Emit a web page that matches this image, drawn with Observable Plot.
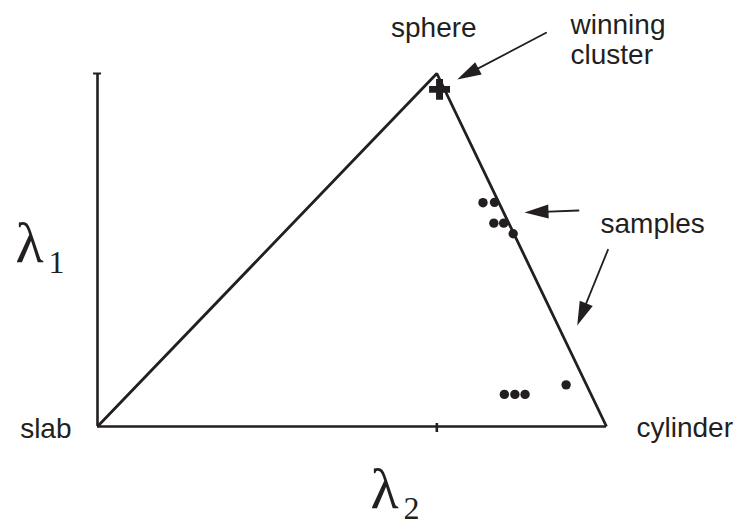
<!DOCTYPE html>
<html>
<head>
<meta charset="utf-8">
<script src="https://cdn.jsdelivr.net/npm/d3@7"></script>
<script src="https://cdn.jsdelivr.net/npm/@observablehq/plot@0.6"></script>
<style>
  html, body { margin: 0; padding: 0; background: #fff; }
  #chart svg { display: block; }
</style>
</head>
<body>
<div id="chart"></div>
<script>
// Shape space: λ2 across, λ1 up; the corners are the ideal shapes
const shapeNames = ["slab", "sphere", "cylinder"];
const shapeLambda2 = [0, 1, 1.5];
const shapeLambda1 = [0, 1, 0];

// Eigenvalue pairs of the individual samples
const sampleLambda2 = [1.136, 1.170, 1.168, 1.197, 1.225, 1.199, 1.230, 1.260, 1.381];
const sampleLambda1 = [0.634, 0.635, 0.576, 0.576, 0.546, 0.091, 0.091, 0.091, 0.118];

// Centre of the winning cluster
const winnerLambda2 = [1.008];
const winnerLambda1 = [0.955];

// Axis ticks
const xTicks = [1];
const yTicks = [1];

// Axis titles: symbol and subscript
const axisSymbols = ["λ", "λ"];
const axisSubscripts = ["2", "1"];

// Callout texts
const calloutText = ["winning\ncluster", "samples"];

// ---- layout ----
const W = 738, H = 527;
const margin = {top: 73, right: 132, bottom: 101, left: 97};
const xDomain = [0, 1.5], yDomain = [0, 1];
const xPx = d3.scaleLinear(xDomain, [margin.left, W - margin.right]);
const yPx = d3.scaleLinear(yDomain, [H - margin.bottom, margin.top]);
const ink = "#231f20";

// where the axis titles and callouts sit, in plot units
const axisTitleX = [0.8045, -0.2417];
const axisTitleY = [-0.232, 0.4646];
const calloutX = [1.3939, 1.4823];
const calloutY = [1.0255, 0.5476];
const pointerX1 = [1.322, 1.4175, 1.5042];
const pointerY1 = [1.1153, 0.6119, 0.5006];
const pointerX2 = [1.060, 1.2583, 1.4137];
const pointerY2 = [0.9830, 0.6062, 0.2861];

const corners = shapeNames.map((name, i) => ({name, x: shapeLambda2[i], y: shapeLambda1[i]}));
const samples = sampleLambda2.map((x, i) => ({x, y: sampleLambda1[i]}));
const winner = winnerLambda2.map((x, i) => ({x, y: winnerLambda1[i]}));
const axisTitles = axisSymbols.map((s, i) => ({s, sub: axisSubscripts[i], x: axisTitleX[i], y: axisTitleY[i]}));
const callouts = calloutText.map((text, i) => ({text, x: calloutX[i], y: calloutY[i]}));
const pointers = pointerX1.map((x1, i) => {
  const dx = xPx(pointerX2[i]) - xPx(x1);
  const dy = yPx(pointerY2[i]) - yPx(pointerY1[i]);
  return {x1, y1: pointerY1[i], x2: pointerX2[i], y2: pointerY2[i], angle: Math.atan2(dy, dx) * 180 / Math.PI};
});

// solid arrowhead, tip at the origin, pointing along +x
const arrowHead = {
  draw(context) {
    const L = 24, w = 7;
    context.moveTo(0, 0);
    context.lineTo(-L, -w);
    context.lineTo(-L, w);
    context.closePath();
  }
};

const cornerLabel = {
  slab: {textAnchor: "end", dx: -26, dy: 11},
  sphere: {textAnchor: "middle", dx: -3, dy: -36.5},
  cylinder: {textAnchor: "start", dx: 30, dy: 10}
};

const sans = "Liberation Sans, Arial, Helvetica, sans-serif";
const serif = "Liberation Serif, Times New Roman, serif";
const fs = 28;

const chart = Plot.plot({
  width: W,
  height: H,
  marginTop: margin.top,
  marginRight: margin.right,
  marginBottom: margin.bottom,
  marginLeft: margin.left,
  x: {domain: xDomain, axis: null},
  y: {domain: yDomain, axis: null},
  style: {fontFamily: sans, background: "#fff", overflow: "visible"},
  marks: [
    // axes
    Plot.ruleY([0], {x1: xDomain[0], x2: xDomain[1], stroke: ink, strokeWidth: 2.6}),
    Plot.ruleX([0], {y1: yDomain[0], y2: yDomain[1], stroke: ink, strokeWidth: 2.6}),
    Plot.ruleX(xTicks, {y1: 0, y2: 0, insetTop: -3, insetBottom: -6, stroke: ink, strokeWidth: 2.6}),
    Plot.ruleY(yTicks, {x1: 0, x2: 0, insetLeft: -4, insetRight: -4, stroke: ink, strokeWidth: 2}),
    // triangle of shapes
    Plot.line(corners, {x: "x", y: "y", stroke: ink, strokeWidth: 2.8, strokeLinejoin: "miter", strokeLinecap: "butt"}),
    ...corners.map(c => Plot.text([c], {x: "x", y: "y", text: "name", fontSize: fs, fill: ink, lineAnchor: "bottom", ...cornerLabel[c.name]})),
    // samples and winning cluster
    Plot.dot(samples, {x: "x", y: "y", r: 4.7, fill: ink, stroke: null}),
    Plot.dot(winner, {x: "x", y: "y", symbol: "cross", r: 8.8, fill: ink, stroke: null}),
    // callouts
    Plot.arrow(pointers, {x1: "x1", y1: "y1", x2: "x2", y2: "y2", stroke: ink, strokeWidth: 1.8, headLength: 0, insetEnd: 12}),
    Plot.dot(pointers, {x: "x2", y: "y2", rotate: "angle", symbol: arrowHead, r: 5, fill: ink, stroke: null}),
    Plot.text(callouts, {x: "x", y: "y", text: "text", fontSize: fs, fill: ink, textAnchor: "start", lineAnchor: "bottom", lineHeight: 1.1}),
    // axis titles
    Plot.text(axisTitles, {x: "x", y: "y", text: "s", fontFamily: serif, fontSize: 58, fill: ink, textAnchor: "start", lineAnchor: "bottom"}),
    Plot.text(axisTitles, {x: "x", y: "y", text: "sub", fontFamily: serif, fontSize: 32, fill: ink, textAnchor: "start", lineAnchor: "bottom", dx: 33, dy: 11})
  ]
});

document.getElementById("chart").append(chart);
</script>
</body>
</html>
